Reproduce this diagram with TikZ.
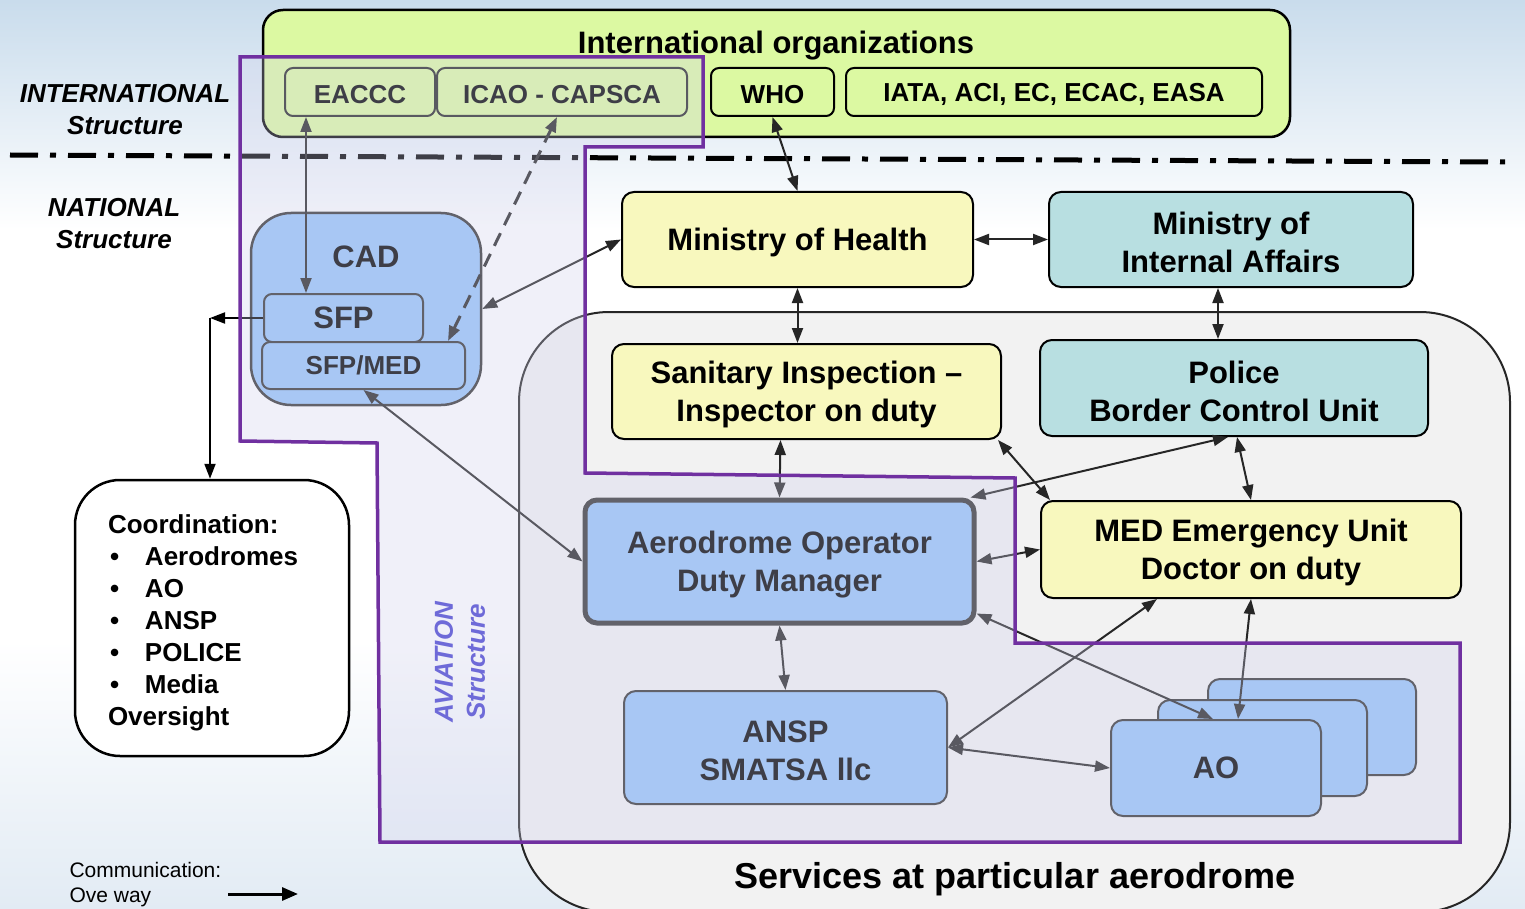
\documentclass[tikz,border=0pt]{standalone}
\usepackage{fontspec}
\setmainfont{Liberation Sans}
\usetikzlibrary{arrows.meta,positioning}
\newcommand{\fbig}{\fontsize{31}{38}\selectfont\bfseries}
\newcommand{\fsmall}{\fontsize{26}{32}\selectfont\bfseries}
\newcommand{\fside}{\fontsize{26}{32}\selectfont\bfseries\itshape}
\newcommand{\cbul}{\hspace*{2pt}\makebox[35pt][l]{\textbullet}}
\newcommand{\tx}{\rule{0pt}{29pt}}
\definecolor{skytop}{HTML}{C9DCEC}
\definecolor{skybot}{HTML}{E2EBF4}
\definecolor{limefill}{HTML}{DCF9A2}
\definecolor{yellowfill}{HTML}{F8F8BE}
\definecolor{tealfill}{HTML}{B8DFE1}
\definecolor{bluefill}{HTML}{97C4F8}
\definecolor{servfill}{HTML}{F2F2F2}
\definecolor{avline}{HTML}{7030A0}
\definecolor{avfill}{HTML}{D0D0EC}
\definecolor{avtext}{HTML}{6E6AD8}

\begin{document}
\begin{tikzpicture}[x=1pt,y=-1pt,>={Triangle[length=15pt,width=11pt]},
  orgbox/.style={draw=black,line width=2pt,rounded corners=12pt,inner sep=0pt,align=center,font=\fbig},
  subbox/.style={draw=black!85,line width=2pt,rounded corners=8pt,fill=limefill,font=\fsmall,inner sep=0pt,minimum height=48,
    execute at begin node={\rule{0pt}{23pt}}},
  yellowbox/.style={orgbox,fill=yellowfill},
  tealbox/.style={orgbox,fill=tealfill},
  bluebox/.style={orgbox,fill=bluefill,draw=black!80},
  link/.style={<->,line width=2pt,draw=black!85}]
  \useasboundingbox (0,0) rectangle (1525,909);
  \fill[white] (0,0) rectangle (1525,909);
  \shade[top color=skytop,bottom color=white] (0,0) rectangle (1525,230);
  \shade[top color=white,bottom color=skybot] (0,640) rectangle (1525,909);
% International level
  \node[orgbox,fill=limefill,line width=2.5pt,rounded corners=20pt,minimum width=1027,minimum height=127] (intl) at (776.5,73.5) {};
  \node[font=\fbig] (intltitle) at (776,46) {International organizations};
  \node[subbox,minimum width=150] (eaccc) at (360,92) {EACCC};
  \node[subbox,minimum width=250] (icao) at (562,92) {ICAO - CAPSCA};
  \node[subbox,draw=black,minimum width=123] (who) at (772.5,92) {WHO};
  \node[subbox,draw=black,minimum width=416] (iata) at (1054,92) {IATA, ACI, EC, ECAC, EASA};
  \node[font=\fside,align=center] (intllbl) at (125,110) {INTERNATIONAL\\Structure};
  \node[font=\fside,align=center] (natlbl) at (114,224) {NATIONAL\\Structure};
  \draw[line width=5pt,dash pattern=on 28pt off 12pt on 6pt off 12pt] (10,155) -- (1505,162);
% Aerodrome services
  \node[draw=black!85,line width=2pt,fill=servfill,rounded corners=90pt,inner sep=0pt,minimum width=991,minimum height=600] (serv) at (1014.5,612) {};
  \node[font=\fontsize{36}{40}\selectfont\bfseries] (servlbl) at (1015,879) {Services at particular aerodrome};
% CAD
  \node[bluebox,rounded corners=40pt,line width=2.5pt,minimum width=230,minimum height=192] (cad) at (366,309) {};
  \node[font=\fbig] (cadlbl) at (366,257) {CAD};
  \node[bluebox,rounded corners=8pt,minimum width=159,minimum height=48] (sfp) at (343.5,318) {SFP};
  \node[bluebox,rounded corners=8pt,minimum width=203,minimum height=47,font=\fsmall] (sfpmed) at (363.5,365.5) {SFP/MED};
  \node[orgbox,fill=white,line width=2.5pt,rounded corners=45pt,minimum width=274,minimum height=276,align=left,text width=208,font=\fsmall] (coord) at (212,618)
    {\tx Coordination:\\\cbul Aerodromes\\\cbul AO\\\cbul ANSP\\\cbul POLICE\\\cbul Media\\Oversight};
% National bodies
  \node[yellowbox,minimum width=351,minimum height=95] (moh) at (797.5,239.5) {\tx Ministry of Health};
  \node[tealbox,minimum width=364,minimum height=95] (mia) at (1231,239.5) {\tx Ministry of\\Internal Affairs};
  \node[yellowbox,minimum width=389,minimum height=95] (san) at (806.5,391.5) {\tx Sanitary Inspection –\\Inspector on duty};
  \node[tealbox,minimum width=388,minimum height=96] (pol) at (1234,388) {\tx Police\\Border Control Unit};
  \node[bluebox,line width=5pt,minimum width=389,minimum height=123] (aodm) at (779.5,561.5) {\tx Aerodrome Operator\\Duty Manager};
  \node[yellowbox,minimum width=420,minimum height=97] (med) at (1251,549.5) {\tx MED Emergency Unit\\Doctor on duty};
  \node[bluebox,minimum width=323,minimum height=113] (ansp) at (785.5,747.5) {\tx ANSP\\SMATSA llc};
  \node[bluebox,minimum width=208,minimum height=96] (ao3) at (1312,727) {};
  \node[bluebox,minimum width=209,minimum height=96] (ao2) at (1262.5,748) {};
  \node[bluebox,minimum width=210,minimum height=96] (ao) at (1216,768) {AO};
% Links
  \draw[link] ([xshift=-54]eaccc.south) -- ([xshift=-37.5]sfp.north);
  \draw[link,line width=3pt,dash pattern=on 14pt off 9pt] ([xshift=-5]icao.south) -- ([xshift=-18]sfpmed.north east);
  \draw[link] (who.south) -- (moh.north);
  \draw[link] (cad.east) -- (moh.west);
  \draw[link] (moh.east) -- (mia.west);
  \draw[link] (moh.south) -- (moh.south |- san.north);
  \draw[link] ([xshift=-13]mia.south) -- ([xshift=-16]pol.north);
  \draw[link] ([xshift=-26]san.south) -- (aodm.north);
  \draw[link] ([xshift=-4]san.south east) -- ([xshift=10]med.north west);
  \draw[link] ([xshift=-6]pol.south) -- ([xshift=-6]aodm.north east);
  \draw[link] ([xshift=3]pol.south) -- (med.north);
  \draw[link] (aodm.east) -- (med.west);
  \draw[link] (sfpmed.south) -- (aodm.west);
  \draw[link] (aodm.south) -- (ansp.north);
  \draw[link] ([yshift=12]aodm.south east) -- ([xshift=-3]ao.north);
  \draw[link] ([xshift=-94]med.south) -- (ansp.east);
  \draw[link] (med.south) -- ([xshift=22]ao.north);
  \draw[link] (ansp.east) -- (ao.west);
  \coordinate (split) at (210,318);
  \draw[->,line width=2pt] (sfp.west) -- (split);
  \draw[->,line width=2pt] (split) -- (split |- coord.north);
% Aviation structure
  \filldraw[fill=avfill,fill opacity=0.3,draw=avline,line width=3.5pt] (240,57) -- (703,57) -- (703,147) -- (585,147) -- (585,473) -- (1015,478) -- (1015,643) -- (1460,643) -- (1460,842) -- (380,842) -- (377,443) -- (240,441) -- cycle;
  \node[rotate=90,font=\fside,text=avtext,align=center] (avlbl) at (460,662) {AVIATION\\Structure};
% Legend
  \node[anchor=north west,align=left,font=\fontsize{21}{25}\selectfont] (legend) at (66,859) {Communication:\\Ove way};
  \coordinate (lgs) at (228,894);
  \coordinate (lge) at (298,894);
  \draw[-{Triangle[length=16pt,width=13pt]},line width=3pt] (lgs) -- (lge);
\end{tikzpicture}
\end{document}
